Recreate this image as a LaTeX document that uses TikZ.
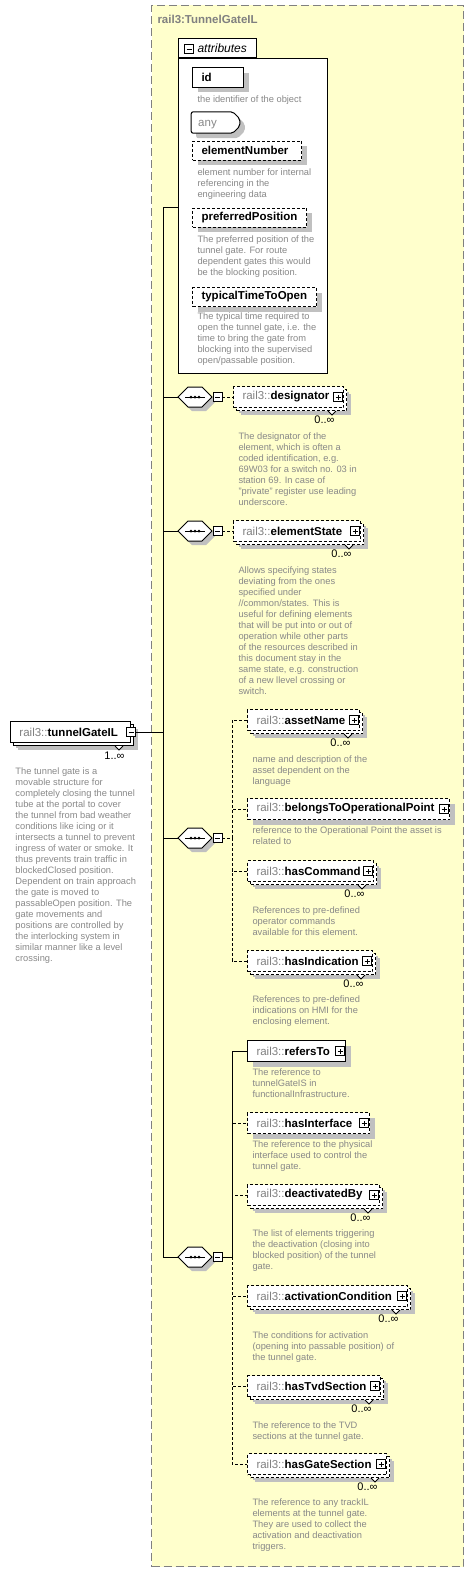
\documentclass[tikz,border=0pt]{standalone}
\usepackage{fontspec}
\setmainfont{Liberation Sans}
\usetikzlibrary{positioning,shapes.misc,shadows,calc}

\definecolor{bgyellow}{RGB}{255,255,204}
\definecolor{framegray}{RGB}{128,128,128}
\definecolor{descgray}{RGB}{136,136,136}
\definecolor{shadegray}{RGB}{192,192,192}

\newcommand{\railns}{{\color{framegray}rail3::}}

\tikzset{
  elem/.style={draw, fill=white, anchor=west, minimum height=21pt, inner xsep=9pt, inner ysep=0pt, align=left,
    font=\fontsize{11.5}{13}\selectfont,
    general shadow={fill=shadegray, draw=none, shadow xshift=5pt, shadow yshift=-5pt}},
  attrel/.style={elem, minimum height=19pt},
  opt/.style={dash pattern=on 3pt off 2pt},
  stacked/.style={general shadow={fill=shadegray, draw=none, shadow xshift=7pt, shadow yshift=-7pt},
    general shadow={fill=white, draw=black, #1, shadow xshift=3pt, shadow yshift=-3pt}},
  stacked/.default=solid,
  desc/.style={anchor=north west, inner sep=0pt, align=left, text=descgray, font=\fontsize{9.3}{11}\selectfont},
  mult/.style={anchor=east, inner sep=0pt, font=\fontsize{11}{13}\selectfont},
  signbox/.style={draw, solid, fill=white, line width=0.8pt, minimum size=9pt, inner sep=0pt},
  minusbox/.style={signbox, path picture={\draw[line width=0.8pt]
    ([xshift=2pt]path picture bounding box.west) -- ([xshift=-2pt]path picture bounding box.east);}},
  plusbox/.style={signbox, path picture={\draw[line width=0.8pt]
    ([xshift=2pt]path picture bounding box.west) -- ([xshift=-2pt]path picture bounding box.east)
    ([yshift=2pt]path picture bounding box.south) -- ([yshift=-2pt]path picture bounding box.north);}},
  seqbox/.style={chamfered rectangle, chamfered rectangle xsep=5pt, chamfered rectangle ysep=5pt, draw, fill=white,
    inner sep=0pt, general shadow={fill=shadegray, draw=none, shadow xshift=4pt, shadow yshift=-4pt}}
}

\begin{document}
\begin{tikzpicture}[x=1pt, y=-1pt, line width=1pt]
\useasboundingbox (0,0) rectangle (473,1571);
\node[draw=framegray, fill=bgyellow, dash pattern=on 8pt off 4pt, anchor=north west, minimum width=312pt, minimum height=1561pt, inner sep=0pt] (frame) at (151,5) {};
\node[anchor=west, inner sep=0pt, text=framegray, font=\bfseries\fontsize{11.5}{13}\selectfont] (title) at (157,19) {rail3:TunnelGateIL};

\node[draw, fill=white, anchor=north west, minimum width=149pt, minimum height=315pt, inner sep=0pt] (attr) at (178,58) {};
\node[draw, fill=white, anchor=south west, minimum height=19pt, inner xsep=0pt, inner ysep=0pt, text width=78pt, align=left, font=\itshape\fontsize{12}{14}\selectfont] (attrtab) at (178,58) {\hspace*{19pt}attributes};
\node[minusbox] (attrtab-m) at (189,49) {};

\node[attrel, text width=33pt] (aid) at (192,77.5) {\textbf{id}};
\node[desc] (aid-d) at (197,95.5) {the identifier of the object};
\node[chamfered rectangle, chamfered rectangle corners={north east,south east}, chamfered rectangle xsep=3pt, chamfered rectangle ysep=4pt,
  draw, fill=white, rounded corners=2pt, inner xsep=4pt, inner ysep=0pt, text=descgray, font=\fontsize{11.5}{13}\selectfont,
  general shadow={fill=shadegray, draw=none, shadow xshift=5pt, shadow yshift=-5pt}] (aany) at (215.5,122.5) {\rule{0pt}{11pt}any\hspace*{16pt}};
\node[attrel, opt, text width=91pt] (anum) at (192,150.5) {\textbf{elementNumber}};
\node[desc] (anum-d) at (197,168.5) {element number for internal\\referencing in the\\engineering data};
\node[attrel, opt, text width=96pt] (apos) at (192,217.5) {\textbf{preferredPosition}};
\node[desc] (apos-d) at (197,235.5) {The preferred position of the\\tunnel gate. For route\\dependent gates this would\\be the blocking position.};
\node[attrel, opt, text width=106pt] (atime) at (192,297) {\textbf{typicalTimeToOpen}};
\node[desc] (atime-d) at (197,312.5) {The typical time required to\\open the tunnel gate, i.e. the\\time to bring the gate from\\blocking into the supervised\\open/passable position.};

\node[elem, stacked, text width=102pt] (tgi) at (10,732) {\railns\textbf{tunnelGateIL}};
\node[minusbox] (tgi-m) at (tgi.east) {};
\node[mult] (tgi-n) at (125,756) {1..∞};
\node[desc] (tgi-d) at (15,767.5) {The tunnel gate is a\\movable structure for\\completely closing the tunnel\\tube at the portal to cover\\the tunnel from bad weather\\conditions like icing or it\\intersects a tunnel to prevent\\ingress of water or smoke. It\\thus prevents train traffic in\\blockedClosed position.\\Dependent on train approach\\the gate is moved to\\passableOpen position. The\\gate movements and\\positions are controlled by\\the interlocking system in\\similar manner like a level\\crossing.};

\node[seqbox] (sq1) at (195,397) {\rule{24pt}{0pt}\rule{0pt}{10pt}};
\node[seqbox] (sq2) at (195,531) {\rule{24pt}{0pt}\rule{0pt}{10pt}};
\node[seqbox] (sq3) at (195,838) {\rule{24pt}{0pt}\rule{0pt}{10pt}};
\node[seqbox] (sq4) at (195,1257) {\rule{24pt}{0pt}\rule{0pt}{10pt}};
\foreach \s in {sq1,sq2,sq3,sq4} {
  \node[minusbox, right=0pt of \s] (\s-m) {};
  \draw ($(\s.center)+(-10,0)$) -- ($(\s.center)+(10,0)$);
  \foreach \d in {-4,0,4} \fill ($(\s.center)+(\d,0)$) circle (1.5pt);
}

\node[elem, opt, stacked=opt, text width=92pt] (desig) at (233,397) {\railns\textbf{designator}};
\node[desc] (desig-d) at (238,432.5) {The designator of the\\element, which is often a\\coded identification, e.g.\\69W03 for a switch no. 03 in\\station 69. In case of\\"private" register use leading\\underscore.};
\node[elem, opt, stacked=opt, text width=109pt] (estate) at (233,531) {\railns\textbf{elementState}};
\node[desc] (estate-d) at (238,566.5) {Allows specifying states\\deviating from the ones\\specified under\\//common/states. This is\\useful for defining elements\\that will be put into or out of\\operation while other parts\\of the resources described in\\this document stay in the\\same state, e.g. construction\\of a new llevel crossing or\\switch.};

\node[elem, opt, stacked=opt, text width=94pt] (asset) at (247,720) {\railns\textbf{assetName}};
\node[desc] (asset-d) at (252,755.5) {name and description of the\\asset dependent on the\\language};
\node[elem, opt, text width=184pt] (belongs) at (247,809) {\railns\textbf{belongsToOperationalPoint}};
\node[desc] (belongs-d) at (252,826.5) {reference to the Operational Point the asset is\\related to};
\node[elem, opt, stacked=opt, text width=108pt] (hascmd) at (247,871) {\railns\textbf{hasCommand}};
\node[desc] (hascmd-d) at (252,906.5) {References to pre-defined\\operator commands\\available for this element.};
\node[elem, opt, stacked=opt, text width=107pt] (hasind) at (247,961) {\railns\textbf{hasIndication}};
\node[desc] (hasind-d) at (252,995.5) {References to pre-defined\\indications on HMI for the\\enclosing element.};

\node[elem, text width=80pt] (refto) at (247,1051) {\railns\textbf{refersTo}};
\node[desc] (refto-d) at (252,1068) {The reference to\\tunnelGateIS in\\functionalInfrastructure.};
\node[elem, opt, text width=104pt] (hasif) at (247,1123) {\railns\textbf{hasInterface}};
\node[desc] (hasif-d) at (252,1140) {The reference to the physical\\interface used to control the\\tunnel gate.};
\node[elem, opt, stacked=opt, text width=114pt] (deact) at (247,1195) {\railns\textbf{deactivatedBy}};
\node[desc] (deact-d) at (252,1229.5) {The list of elements triggering\\the deactivation (closing into\\blocked position) of the tunnel\\gate.};
\node[elem, opt, stacked=opt, text width=142pt] (actcond) at (247,1296) {\railns\textbf{activationCondition}};
\node[desc] (actcond-d) at (252,1331) {The conditions for activation\\(opening into passable position) of\\the tunnel gate.};
\node[elem, opt, stacked=opt, text width=115pt] (hastvd) at (247,1386) {\railns\textbf{hasTvdSection}};
\node[desc] (hastvd-d) at (252,1421) {The reference to the TVD\\sections at the tunnel gate.};
\node[elem, opt, stacked=opt, text width=121pt] (hasgate) at (247,1464) {\railns\textbf{hasGateSection}};
\node[desc] (hasgate-d) at (252,1498.5) {The reference to any trackIL\\elements at the tunnel gate.\\They are used to collect the\\activation and deactivation\\triggers.};

\foreach \n in {desig,estate,asset,belongs,hascmd,hasind,refto,hasif,deact,actcond,hastvd,hasgate}
  \node[plusbox, anchor=east] (\n-p) at ([xshift=-1pt]\n.east) {};
\foreach \n in {desig,estate,asset,hascmd,hasind,deact,actcond,hastvd,hasgate} {
  \node[mult] (\n-n) at ([xshift=-9pt,yshift=-11.5pt]\n.south east) {0..∞};
  \draw[fill=white, line width=0.8pt] ([xshift=-16pt,yshift=-3pt]\n.south east) -- ++(4,4) -- ++(4,-4);
}
\draw[fill=white, line width=0.8pt] ([xshift=-16pt,yshift=-3pt]tgi.south east) -- ++(4,4) -- ++(4,-4);

\coordinate (trunk) at (163,207);
\draw (trunk) -- (trunk -| attr.west);
\draw (trunk) |- (sq4.west);
\draw (tgi-m.east) -- (tgi-m.east -| trunk);
\foreach \s in {sq1,sq2,sq3} \draw (trunk |- \s.west) -- (\s.west);
\draw[opt] (sq1-m.east) -- (desig.west);
\draw[opt] (sq2-m.east) -- (estate.west);
\foreach \n in {asset,belongs,hascmd,hasind}
  \draw[opt] (sq3-m.east) -| ([xshift=-15pt]\n.west) -- (\n.west);
\foreach \n in {hasif,deact,actcond,hastvd,hasgate}
  \draw[opt] (sq4-m.east) -| ([xshift=-15pt]\n.west) -- (\n.west);
\draw (sq4-m.east) -| ([xshift=-15pt]refto.west) -- (refto.west);
\end{tikzpicture}
\end{document}
